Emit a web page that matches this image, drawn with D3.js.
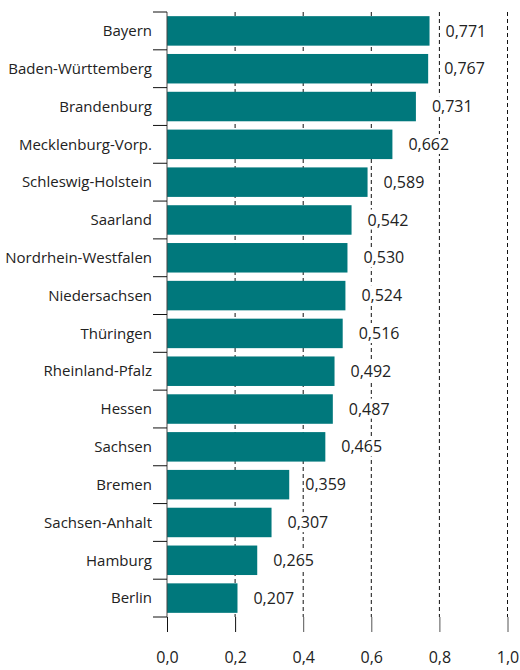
<!DOCTYPE html>
<html>
<head>
<meta charset="utf-8">
<script src="https://cdn.jsdelivr.net/npm/d3@7"></script>
<style>
  body { margin: 0; background: #fff; }
  text { font-family: "Open Sans", sans-serif; fill: #222; }
</style>
</head>
<body>
<div id="chart"></div>
<script>
var states = ["Bayern", "Baden-Württemberg", "Brandenburg", "Mecklenburg-Vorp.",
	"Schleswig-Holstein", "Saarland", "Nordrhein-Westfalen", "Niedersachsen",
	"Thüringen", "Rheinland-Pfalz", "Hessen", "Sachsen", "Bremen",
	"Sachsen-Anhalt", "Hamburg", "Berlin"];
var values = [0.771, 0.767, 0.731, 0.662, 0.589, 0.542, 0.530, 0.524,
	0.516, 0.492, 0.487, 0.465, 0.359, 0.307, 0.265, 0.207];
var ticks = [0, 0.2, 0.4, 0.6, 0.8, 1.0];

var width = 520, height = 670;
var plot = { left: 167, right: 507.5, top: 12, bottom: 617 };
var fmt = function (v, n) { return v.toFixed(n).replace(".", ","); };

var svg = d3.select("#chart").append("svg")
	.attr("width", width)
	.attr("height", height);

var x = d3.scaleLinear().domain([0, 1]).range([plot.left, plot.right]);
var y = d3.scaleBand().domain(states).range([plot.top, plot.bottom])
	.paddingInner(0.22).paddingOuter(0.11);

// dashed gridlines
svg.append("g")
	.selectAll("line")
	.data(ticks.slice(1))
	.enter().append("line")
	.attr("x1", function (d) { return x(d); })
	.attr("x2", function (d) { return x(d); })
	.attr("y1", plot.top)
	.attr("y2", plot.bottom)
	.attr("stroke", "#111")
	.attr("stroke-width", 1)
	.attr("stroke-dasharray", "4,3");

// bars
svg.append("g")
	.selectAll("rect")
	.data(values)
	.enter().append("rect")
	.attr("x", x(0))
	.attr("y", function (d, i) { return y(states[i]); })
	.attr("width", function (d) { return x(d) - x(0); })
	.attr("height", y.bandwidth())
	.attr("fill", "#00787c");

// value labels, white box behind so the gridlines break
var labels = svg.append("g")
	.selectAll("g")
	.data(values)
	.enter().append("g");

labels.append("text")
	.attr("x", function (d) { return x(d) + 16; })
	.attr("y", function (d, i) { return y(states[i]) + y.bandwidth() / 2; })
	.attr("dy", "0.35em")
	.style("font-size", "16px")
	.text(function (d) { return fmt(d, 3); });

labels.each(function () {
	var t = d3.select(this).select("text");
	var b = t.node().getBBox();
	d3.select(this).insert("rect", "text")
		.attr("x", b.x - 1)
		.attr("y", b.y + 1)
		.attr("width", b.width + 2)
		.attr("height", b.height - 2)
		.attr("fill", "#fff");
});

// bottom axis
var xAxis = svg.append("g")
	.attr("transform", "translate(0," + plot.bottom + ")")
	.call(d3.axisBottom(x).tickValues(ticks).tickSize(15).tickPadding(20)
		.tickFormat(function (d) { return fmt(d, 1); }));
xAxis.select(".domain").remove();
xAxis.selectAll("line").attr("stroke", function (d) { return d < 0.3 ? "#111" : "#555"; });
xAxis.selectAll("text").style("font-size", "16px").attr("fill", "#222");

// left axis with ticks at band boundaries
var boundaries = states.map(function (s) { return y(s) - y.step() * y.paddingInner() / 2; });
boundaries.push(plot.bottom);
var yAxis = svg.append("g");
yAxis.append("line")
	.attr("x1", plot.left).attr("x2", plot.left)
	.attr("y1", plot.top).attr("y2", plot.bottom)
	.attr("stroke", "#444");
yAxis.selectAll(".tick")
	.data(boundaries)
	.enter().append("line")
	.attr("class", "tick")
	.attr("x1", plot.left - 14).attr("x2", plot.left)
	.attr("y1", function (d) { return d; })
	.attr("y2", function (d) { return d; })
	.attr("stroke", "#111");
yAxis.selectAll("text")
	.data(states)
	.enter().append("text")
	.attr("x", plot.left - 15)
	.attr("y", function (d) { return y(d) + y.bandwidth() / 2; })
	.attr("dy", "0.35em")
	.attr("text-anchor", "end")
	.style("font-size", "15px")
	.text(function (d) { return d; });
</script>
</body>
</html>
